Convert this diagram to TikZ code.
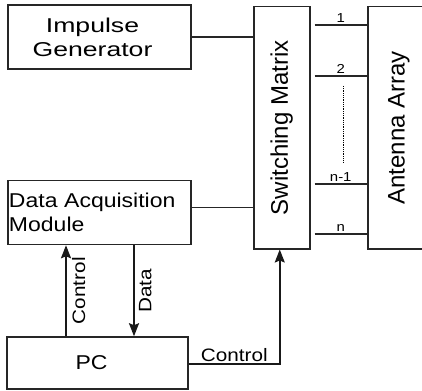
\documentclass[tikz,border=0pt]{standalone}
\usepackage{fontspec}
\setmainfont{Liberation Sans}[FakeStretch=1.15]
\newfontfamily\wideface{Liberation Sans}[FakeStretch=1.33]
\usepackage{tikz}
\usetikzlibrary{arrows,arrows.meta,positioning,calc}
\tikzset{
    %Define standard arrow tip
    >={Stealth[length=13pt,width=10pt,inset=2pt]},
    %Define style for boxes
    block/.style={
           rectangle,
           draw=black!85, line width=1.5pt,
           minimum width=183pt,
           minimum height=64pt,
           inner sep=1pt,
           font=\fontsize{20}{24}\selectfont,
           align=center},
     tall/.style={
           rectangle,
           draw=black!85, line width=1.5pt,
           minimum height=242pt,
           inner sep=0pt,
           font=\fontspec{Liberation Sans}\fontsize{24}{26}\selectfont},
     small/.style={
           font=\fontsize{13}{15}\selectfont,
           inner sep=2pt},
     lab/.style={
           font=\fontsize{18}{20}\selectfont,
           inner sep=2pt},
    % Define arrow style
    pil/.style={
           ->,
           line width=2pt,
           draw=black!90},
    wire/.style={
           line width=1.4pt,
           draw=black!85}
}
\begin{document}
\begin{tikzpicture}[x=1pt,y=1pt]
\clip[use as bounding box] (0,0) rectangle (422,-390);
\node[block, font=\wideface\fontsize{20}{24}\selectfont](ig) at (99.5,-37)
  {\hspace*{-14pt}Impulse\\\hspace*{-14pt}Generator};
\node[block, below=110pt of ig, text width=181pt, align=left](dam){Data Acquisition\\Module};
\node[block, below=91pt of dam.south west, anchor=north west, xshift=-1pt,
  minimum width=181pt, minimum height=52pt](pc){\hspace*{-12pt}PC};
\node[tall, minimum width=56pt, anchor=north west](sw) at (253,-6){\rotatebox{90}{Switching Matrix}};
\node[tall, minimum width=80pt, anchor=north west](ant) at (367,-6){\hspace*{-18pt}\rotatebox{90}{Antenna Array}};
% connections to the switch
\path[wire]
    (ig.east) edge (ig.east -| sw.west)
    ([yshift=5pt]dam.east) edge ([yshift=5pt]dam.east -| sw.west);
% antenna channels
\foreach \y/\lab in {25/1, 76/2, 184/n-1, 234/n}
  \draw[wire, line width=1.8pt] ([xshift=4pt]sw.east |- 0,-\y) -- (ant.west |- 0,-\y)
    node[small, midway, above]{\lab};
\draw[densely dotted, line width=0.8pt] (343,-86) -- (343,-162);
% PC links
\draw[pil] ([xshift=-31.5pt]pc.north) -- ([xshift=-31.5pt]pc.north |- dam.south)
    node[lab, midway, anchor=north, rotate=90, inner sep=5pt]{Control};
\draw[pil] ([xshift=36.5pt]pc.north |- dam.south) -- ([xshift=36.5pt]pc.north)
    node[lab, midway, anchor=north, rotate=90, inner sep=4pt]{Data};
\draw[pil, line width=1.6pt] ([yshift=-1pt]pc.east) -| ([xshift=-2pt]sw.south)
    node[lab, pos=0.25, above]{Control};
\end{tikzpicture}
\end{document}
